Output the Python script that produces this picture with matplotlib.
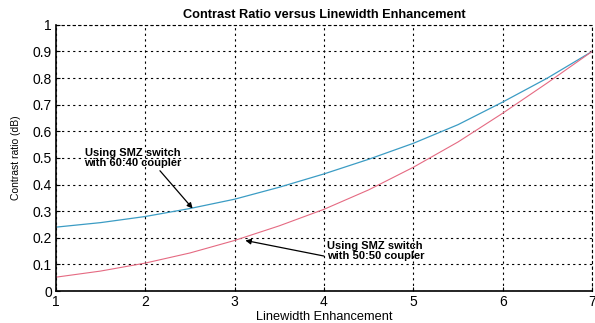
import matplotlib
matplotlib.use("Agg")
import matplotlib.pyplot as plt

# values
linewidth = [1, 1.5, 2, 2.5, 3, 3.5, 4, 4.5, 5, 5.5, 6, 6.5, 7]
cr_6040 = [0.24, 0.257, 0.28, 0.31, 0.345, 0.39, 0.44, 0.495, 0.555, 0.625, 0.71, 0.80, 0.90]
cr_5050 = [0.052, 0.075, 0.105, 0.143, 0.19, 0.245, 0.307, 0.38, 0.465, 0.56, 0.668, 0.782, 0.90]
x_ticks = [1, 2, 3, 4, 5, 6, 7]
y_ticks = [0, 0.1, 0.2, 0.3, 0.4, 0.5, 0.6, 0.7, 0.8, 0.9, 1]

plt.rcParams['font.family'] = ['Liberation Sans', 'DejaVu Sans']


def main():
    fig = plt.figure(figsize=(5.95, 3.23), dpi=100)
    ax = fig.add_axes([0.094, 0.099, 0.901, 0.824])

    ax.plot(linewidth, cr_6040, color='#3b9cc4', lw=0.9)
    ax.plot(linewidth, cr_5050, color='#e56a82', lw=0.8)

    ax.set_xlim(1, 7)
    ax.set_ylim(0, 1)
    ax.set_xticks(x_ticks)
    ax.set_yticks(y_ticks)
    ax.set_yticklabels(['0' if v == 0 else ('1' if v == 1 else f'{v:g}') for v in y_ticks])
    ax.tick_params(labelsize=10, direction='in', length=3, pad=3)
    ax.grid(True, color='black', linestyle=(0, (2, 3)), lw=0.8)

    ax.spines['left'].set_linewidth(1.2)
    ax.spines['bottom'].set_linewidth(1.2)
    for s in ['top', 'right']:
        ax.spines[s].set_linestyle((0, (2, 3)))
        ax.spines[s].set_linewidth(0.8)

    ax.set_title('Contrast Ratio versus Linewidth Enhancement',
                 fontsize=9.2, fontweight='bold', pad=5)
    ax.set_xlabel('Linewidth Enhancement', fontsize=9.2, labelpad=1)
    ax.set_ylabel('Contrast ratio (dB)', fontsize=7.5, labelpad=8)

    ax.annotate('Using SMZ switch\nwith 60:40 coupler', xy=(2.53, 0.31),
                xytext=(1.32, 0.5), fontsize=8, fontweight='bold',
                linespacing=1.0, va='center',
                arrowprops=dict(arrowstyle='-|>', color='black', lw=0.9,
                                shrinkA=0, shrinkB=0, mutation_scale=8,
                                relpos=(0.75, 0.0)))
    ax.annotate('Using SMZ switch\nwith 50:50 coupler', xy=(3.12, 0.19),
                xytext=(4.03, 0.152), fontsize=8, fontweight='bold',
                linespacing=1.0, va='center',
                arrowprops=dict(arrowstyle='-|>', color='black', lw=0.9,
                                shrinkA=0, shrinkB=0, mutation_scale=8,
                                relpos=(0.0, 0.2)))

    fig.savefig('out.png', dpi=100)


if __name__ == "__main__":
    main()
